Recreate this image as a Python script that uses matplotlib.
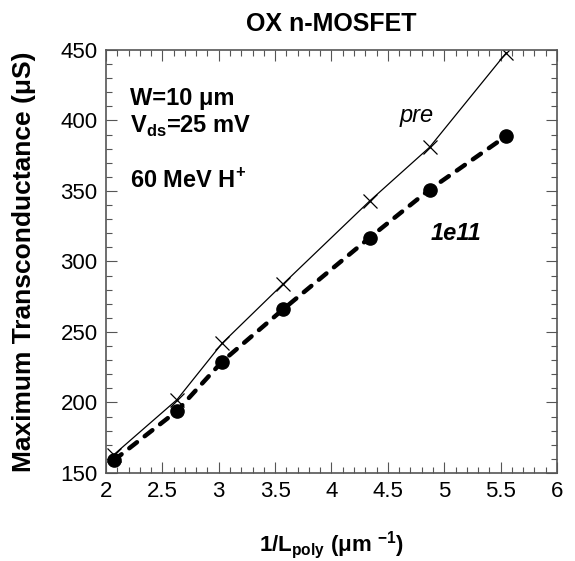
import matplotlib
matplotlib.use("Agg")
import matplotlib.pyplot as plt
from matplotlib.ticker import MultipleLocator

plt.rcParams['font.family'] = ['Liberation Sans', 'DejaVu Sans']
plt.rcParams['mathtext.fontset'] = 'custom'
plt.rcParams['mathtext.rm'] = 'Liberation Sans'
plt.rcParams['mathtext.bf'] = 'Liberation Sans:bold'

# 1/Lpoly (um^-1) and peak gm (uS)
inv_lpoly = [2.07, 2.63, 3.03, 3.57, 4.34, 4.87, 5.55]
gm_pre = [163, 202, 242, 284, 343, 381, 448]
gm_1e11 = [159, 194, 229, 266, 317, 351, 389]

fig = plt.figure(figsize=(5.75, 5.61), dpi=100)
ax = fig.add_axes([0.1843, 0.1569, 0.7844, 0.754])

ax.plot(inv_lpoly, gm_pre, color='black', lw=0.9, marker='x', ms=10, mew=0.9)
ax.plot(inv_lpoly, gm_1e11, color='black', lw=3.2, ls=(0, (2.2, 2.2)),
        marker='o', ms=9.5, dash_capstyle='round')

ax.set_xlim(2, 6)
ax.set_ylim(150, 450)
ax.xaxis.set_minor_locator(MultipleLocator(0.1))
ax.yaxis.set_major_locator(MultipleLocator(50))
ax.yaxis.set_minor_locator(MultipleLocator(10))
ax.set_xticks([2, 2.5, 3, 3.5, 4, 4.5, 5, 5.5, 6])
ax.set_xticklabels(['2', '2.5', '3', '3.5', '4', '4.5', '5', '5.5', '6'])
ax.tick_params(which='both', direction='in', top=True, right=True,
               labelsize=16, width=0.8, color='#555555')
ax.tick_params(which='major', length=8, pad=6)
ax.tick_params(which='minor', length=4)
for sp in ax.spines.values():
    sp.set_linewidth(1.2)
    sp.set_color('#555555')

ax.set_title('OX n-MOSFET', fontsize=18, fontweight='bold', pad=14)
ax.set_ylabel('Maximum Transconductance (μS)', fontsize=19,
              fontweight='bold')
ax.yaxis.set_label_coords(-0.155, 0.5)
ax.set_xlabel(r'1/L$_{\mathbf{poly}}$ (μm $^{\mathbf{-1}}$)', fontsize=16,
              fontweight='bold', labelpad=19)

ax.text(2.21, 411, 'W=10 μm', fontsize=17, fontweight='bold')
ax.text(2.21, 391, r'V$_{\mathbf{ds}}$=25 mV', fontsize=17, fontweight='bold')
ax.text(2.21, 352, r'60 MeV H$^{\mathbf{+}}$', fontsize=17, fontweight='bold')
ax.text(4.6, 399, 'pre', fontsize=17, style='italic')
ax.text(4.88, 315, '1e11', fontsize=17, style='italic', fontweight='bold')

fig.savefig('out.png', dpi=100)
